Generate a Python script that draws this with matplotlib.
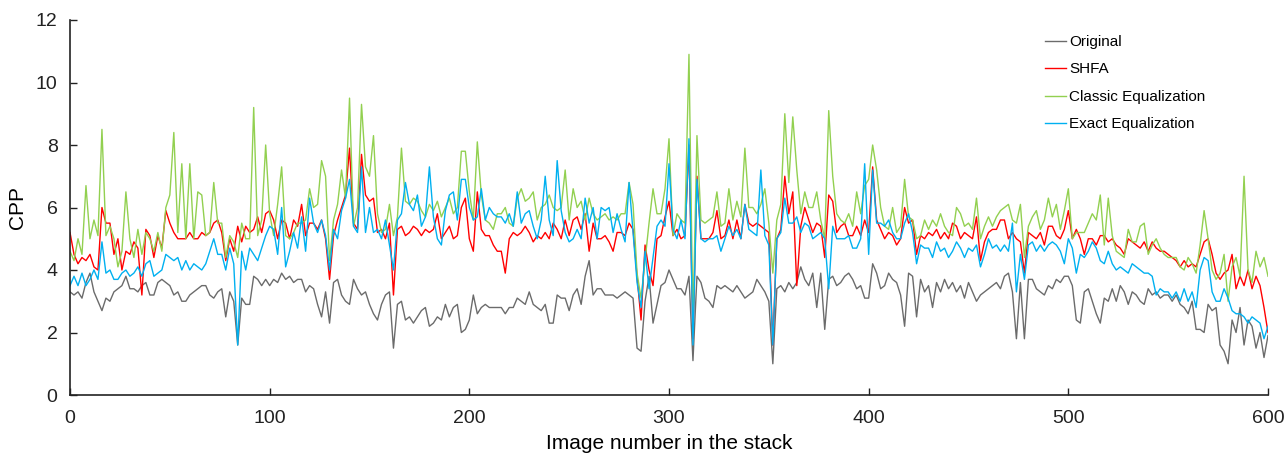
import numpy as np
import matplotlib
matplotlib.use('Agg')
import matplotlib.pyplot as plt

plt.rcParams['font.family'] = ['Liberation Sans', 'DejaVu Sans']

# image numbers (every second image of the stack)
image_numbers = list(range(0, 601, 2))

original = [
    3.3, 3.2, 3.3, 3.1, 3.6, 3.9, 3.3, 3.0, 2.7, 3.1, 3.0, 3.3, 3.4, 3.5, 3.8, 3.4, 3.4, 3.3, 3.5, 3.6, 3.2, 3.2, 3.6, 3.7, 3.6,
    3.5, 3.2, 3.3, 3.0, 3.0, 3.2, 3.3, 3.4, 3.5, 3.5, 3.2, 3.1, 3.3, 3.4, 2.5, 3.3, 3.0, 1.6, 3.1, 2.9, 2.9, 3.8, 3.7, 3.5, 3.7,
    3.5, 3.7, 3.6, 3.9, 3.7, 3.8, 3.6, 3.7, 3.7, 3.3, 3.5, 3.4, 2.9, 2.5, 3.3, 2.3, 3.6, 3.7, 3.2, 3.0, 2.9, 3.7, 3.4, 3.2, 3.3,
    2.9, 2.6, 2.4, 2.9, 3.2, 3.3, 1.5, 2.9, 3.0, 2.4, 2.5, 2.3, 2.5, 2.7, 2.8, 2.2, 2.3, 2.5, 2.4, 2.9, 2.5, 2.8, 2.9, 2.0, 2.1,
    2.4, 3.2, 2.6, 2.8, 2.9, 2.8, 2.8, 2.8, 2.8, 2.6, 2.8, 2.8, 3.1, 3.0, 2.9, 3.3, 2.9, 2.8, 2.7, 2.9, 2.3, 2.3, 3.2, 3.1, 3.1,
    2.7, 3.2, 3.4, 2.9, 3.8, 4.3, 3.2, 3.4, 3.4, 3.2, 3.2, 3.2, 3.1, 3.2, 3.3, 3.2, 3.1, 1.5, 1.4, 3.0, 3.8, 2.3, 2.9, 3.5, 3.6,
    4.0, 3.7, 3.4, 3.4, 3.2, 3.8, 1.1, 3.8, 3.6, 3.1, 3.0, 2.8, 3.5, 3.4, 3.5, 3.4, 3.3, 3.5, 3.3, 3.1, 3.2, 3.3, 3.7, 3.5, 3.3,
    3.0, 1.0, 3.4, 3.5, 3.3, 3.6, 3.4, 3.6, 4.1, 3.7, 3.5, 3.9, 2.8, 3.9, 2.1, 3.7, 3.8, 3.5, 3.6, 3.8, 3.9, 3.7, 3.4, 3.5, 3.1,
    3.1, 4.2, 3.9, 3.4, 3.5, 3.9, 3.7, 3.6, 3.2, 2.2, 3.9, 3.8, 2.5, 3.7, 3.3, 3.5, 2.8, 3.6, 3.3, 3.7, 3.4, 3.6, 3.3, 3.5, 3.1,
    3.6, 3.3, 3.0, 3.2, 3.3, 3.4, 3.5, 3.6, 3.4, 3.8, 3.9, 3.3, 1.8, 3.6, 1.8, 3.7, 3.7, 3.4, 3.3, 3.2, 3.5, 3.4, 3.7, 3.6, 3.8,
    3.8, 3.5, 2.4, 2.3, 3.3, 3.4, 3.0, 2.6, 2.3, 3.1, 3.0, 3.4, 3.0, 3.5, 3.3, 2.9, 3.3, 3.2, 3.0, 2.9, 3.4, 3.2, 3.3, 3.1, 3.2,
    3.2, 3.0, 3.2, 2.9, 2.8, 2.6, 3.0, 2.1, 2.1, 2.0, 2.9, 2.7, 2.8, 1.6, 1.4, 1.0, 2.4, 2.0, 2.8, 1.6, 2.4, 2.2, 1.5, 2.0, 1.2, 1.9,
]

shfa = [
    5.2, 4.5, 4.2, 4.4, 4.3, 4.5, 4.1, 4.0, 6.0, 5.5, 5.5, 4.5, 5.0, 4.0, 4.6, 4.5, 4.9, 4.7, 3.2, 5.3, 5.1, 4.4, 5.1, 4.7, 5.9,
    5.5, 5.2, 5.0, 5.0, 5.0, 5.2, 5.0, 5.0, 5.2, 5.1, 5.2, 5.5, 5.6, 5.2, 4.3, 5.0, 4.6, 5.4, 4.9, 5.4, 5.2, 5.3, 5.7, 5.2, 5.8,
    5.9, 5.6, 5.0, 5.6, 5.5, 5.0, 5.6, 5.4, 6.1, 5.1, 5.5, 5.5, 5.3, 5.6, 5.0, 3.7, 5.1, 5.6, 6.0, 6.4, 7.9, 5.5, 5.3, 7.7, 6.4,
    6.2, 6.3, 5.2, 5.3, 5.0, 5.5, 3.2, 5.3, 5.4, 5.1, 5.2, 5.4, 5.3, 5.1, 5.3, 5.2, 5.3, 5.8, 5.0, 5.2, 5.4, 5.0, 5.1, 6.0, 6.3,
    5.0, 4.6, 6.5, 5.3, 5.1, 5.1, 4.8, 4.6, 4.6, 3.9, 5.0, 5.2, 5.1, 5.2, 5.4, 5.2, 4.9, 5.1, 5.0, 5.2, 5.0, 5.5, 5.3, 5.0, 5.6,
    5.1, 5.6, 5.7, 5.3, 5.8, 4.6, 5.5, 5.0, 5.0, 5.1, 4.9, 4.6, 5.2, 5.2, 5.1, 5.5, 5.3, 3.8, 2.4, 4.8, 4.0, 3.5, 5.0, 5.1, 5.7,
    6.2, 5.1, 5.3, 5.0, 5.1, 8.0, 1.8, 7.0, 5.0, 5.0, 5.0, 5.2, 5.9, 5.0, 5.1, 5.6, 5.0, 5.6, 5.0, 6.1, 5.5, 5.4, 5.5, 5.4, 5.3,
    5.2, 1.6, 5.0, 5.3, 7.0, 5.8, 6.5, 3.5, 5.4, 6.0, 5.6, 5.2, 5.5, 5.4, 4.4, 6.4, 6.2, 5.2, 5.4, 5.5, 5.1, 5.1, 5.4, 5.1, 5.6,
    5.2, 7.3, 5.6, 5.3, 5.0, 5.2, 5.1, 4.8, 5.0, 6.0, 5.5, 5.6, 4.5, 5.1, 5.0, 5.2, 5.1, 5.3, 5.0, 5.2, 5.0, 5.5, 5.4, 5.0, 5.2,
    5.1, 5.0, 5.7, 4.3, 4.9, 5.2, 5.3, 5.3, 5.6, 5.6, 5.0, 5.2, 5.0, 4.9, 3.9, 5.2, 5.1, 5.0, 5.2, 4.8, 5.4, 5.4, 5.1, 5.0, 5.3,
    5.9, 5.0, 5.3, 5.0, 4.5, 5.0, 5.0, 4.8, 5.1, 5.1, 4.9, 5.0, 4.8, 4.7, 4.5, 5.0, 4.9, 4.8, 4.7, 4.9, 4.6, 4.9, 4.7, 4.6, 4.6,
    4.5, 4.4, 4.3, 4.1, 4.3, 4.1, 4.2, 4.1, 4.5, 4.9, 5.0, 4.5, 3.9, 3.7, 3.9, 4.0, 4.5, 3.4, 3.8, 3.5, 4.0, 3.4, 3.8, 3.5, 2.8, 2.0,
]

classic_eq = [
    4.6, 4.3, 5.0, 4.5, 6.7, 5.0, 5.6, 5.1, 8.5, 5.1, 5.4, 5.0, 4.1, 4.6, 6.5, 5.0, 4.4, 5.3, 4.5, 5.2, 5.0, 4.6, 5.2, 4.6, 6.0,
    6.4, 8.4, 5.2, 7.4, 5.0, 7.4, 5.0, 6.5, 6.4, 5.1, 5.2, 6.8, 5.5, 5.5, 4.4, 5.1, 4.9, 4.4, 5.5, 5.0, 5.0, 9.2, 5.1, 5.6, 8.0,
    5.8, 5.1, 6.1, 7.3, 5.1, 5.0, 5.2, 5.5, 5.5, 5.6, 6.6, 6.0, 6.1, 7.5, 7.0, 4.3, 5.6, 6.1, 7.2, 6.3, 9.5, 5.4, 6.0, 9.3, 7.3,
    7.0, 8.3, 5.8, 5.2, 5.3, 6.1, 5.1, 5.7, 7.9, 6.2, 6.1, 6.3, 6.2, 5.9, 5.7, 6.1, 5.9, 6.2, 5.7, 6.0, 6.3, 5.8, 6.0, 7.8, 7.8,
    6.5, 5.6, 8.1, 6.4, 5.6, 5.5, 5.3, 5.8, 5.8, 6.0, 5.5, 5.4, 6.3, 6.6, 6.2, 6.3, 6.5, 5.6, 6.0, 6.1, 6.4, 6.0, 5.9, 6.0, 7.2,
    5.6, 6.6, 6.0, 6.2, 5.6, 6.3, 5.8, 5.6, 5.7, 5.8, 5.6, 5.7, 5.6, 5.8, 5.8, 6.8, 6.1, 3.9, 3.1, 4.3, 5.5, 6.6, 5.8, 5.8, 6.6,
    8.2, 5.1, 5.8, 5.6, 5.5, 10.9, 2.3, 8.3, 5.6, 5.5, 5.6, 5.7, 6.5, 5.4, 5.5, 6.6, 5.6, 6.2, 5.7, 7.9, 6.0, 6.0, 5.8, 6.1, 6.6,
    5.5, 3.9, 5.6, 6.1, 9.0, 6.8, 8.9, 7.2, 5.8, 6.5, 6.0, 6.0, 6.5, 5.6, 5.0, 9.1, 7.0, 5.8, 5.6, 5.5, 5.8, 5.4, 6.5, 5.8, 6.7,
    6.9, 8.0, 7.2, 6.0, 5.4, 5.3, 6.0, 5.2, 5.4, 6.9, 5.7, 5.6, 5.0, 5.1, 5.6, 5.3, 5.6, 5.4, 5.8, 5.4, 5.2, 5.1, 6.0, 5.8, 5.4,
    5.5, 5.3, 6.3, 5.0, 5.4, 5.7, 5.4, 5.7, 5.9, 6.0, 6.1, 5.6, 5.5, 6.1, 4.4, 5.4, 5.7, 5.9, 5.3, 5.6, 6.3, 5.7, 6.1, 5.3, 5.9,
    6.6, 5.0, 5.2, 5.2, 5.2, 5.5, 5.8, 5.6, 6.4, 4.8, 6.3, 5.1, 4.6, 4.5, 4.4, 5.3, 4.9, 4.9, 5.4, 5.5, 4.5, 4.8, 5.0, 4.7, 4.5,
    4.4, 4.4, 4.4, 4.1, 4.0, 4.4, 4.2, 3.9, 4.8, 5.9, 5.0, 4.0, 3.7, 3.9, 4.5, 3.0, 4.1, 4.4, 3.8, 7.0, 4.0, 3.6, 4.6, 4.1, 4.4, 3.8,
]

exact_eq = [
    3.5, 3.8, 3.5, 3.9, 3.5, 3.7, 4.0, 3.7, 4.9, 3.9, 4.0, 3.7, 3.7, 3.9, 4.0, 3.8, 3.9, 4.1, 3.8, 4.2, 4.3, 3.8, 3.9, 4.0, 4.5,
    4.4, 4.3, 4.4, 4.0, 4.3, 4.0, 4.2, 4.1, 4.0, 4.2, 4.6, 5.0, 4.5, 4.5, 4.0, 4.7, 4.2, 1.6, 4.6, 4.0, 4.7, 4.5, 4.3, 4.7, 5.1,
    5.4, 5.3, 4.5, 6.0, 4.1, 4.6, 5.2, 4.7, 5.7, 4.6, 6.3, 5.5, 5.2, 5.6, 5.1, 4.0, 5.3, 5.0, 5.9, 6.3, 6.9, 5.4, 5.2, 7.3, 5.2,
    6.0, 5.2, 5.3, 5.0, 5.6, 4.8, 4.0, 5.6, 5.8, 6.8, 6.1, 5.9, 6.4, 5.4, 5.7, 7.3, 5.7, 5.0, 4.8, 5.9, 6.4, 6.5, 5.6, 6.9, 6.9,
    6.0, 5.6, 5.7, 6.6, 5.6, 6.0, 5.8, 5.7, 5.7, 5.5, 5.8, 5.4, 6.5, 5.5, 5.8, 5.9, 5.4, 5.0, 5.6, 7.0, 5.6, 5.1, 7.5, 5.9, 5.2,
    4.9, 5.0, 5.3, 5.0, 6.3, 5.5, 6.0, 5.0, 6.0, 5.9, 6.0, 5.2, 5.8, 5.3, 4.9, 6.8, 5.2, 3.6, 2.8, 4.6, 3.4, 4.4, 5.4, 5.6, 5.4,
    7.4, 5.3, 5.0, 5.6, 5.0, 8.2, 1.6, 6.9, 5.0, 4.9, 5.0, 5.0, 5.1, 4.6, 5.0, 5.4, 5.1, 5.3, 5.0, 6.1, 5.3, 5.2, 5.1, 7.2, 5.1,
    4.8, 1.6, 5.0, 5.2, 6.3, 5.5, 5.5, 5.7, 5.2, 5.5, 5.4, 5.0, 5.1, 5.2, 5.0, 3.4, 5.4, 5.0, 5.0, 5.0, 5.1, 4.7, 4.7, 5.0, 7.4,
    4.5, 7.2, 5.5, 5.5, 5.4, 5.6, 5.2, 5.0, 5.0, 5.5, 5.8, 5.2, 4.2, 4.8, 4.7, 4.7, 4.4, 4.9, 4.6, 4.7, 4.4, 4.6, 4.9, 4.7, 4.4,
    4.7, 4.6, 4.8, 4.1, 4.5, 5.0, 4.7, 4.8, 4.6, 4.8, 4.6, 5.5, 3.3, 4.5, 3.7, 4.8, 4.9, 4.6, 4.8, 4.6, 4.8, 4.9, 4.8, 4.6, 4.2,
    5.0, 4.7, 3.9, 4.5, 4.4, 4.6, 4.9, 4.7, 4.3, 4.2, 4.6, 4.2, 4.0, 4.1, 4.0, 3.9, 4.2, 4.1, 4.0, 3.9, 3.9, 3.8, 3.2, 3.4, 3.3,
    3.3, 3.1, 3.3, 3.0, 3.4, 3.0, 3.3, 2.8, 4.0, 4.4, 4.3, 3.3, 3.0, 3.0, 3.4, 3.1, 2.7, 2.6, 2.6, 2.5, 2.3, 2.5, 2.4, 2.3, 1.8, 2.2,
]

series = [
    ('Original', original, '#6b6b6b'),
    ('SHFA', shfa, '#ff0000'),
    ('Classic Equalization', classic_eq, '#92d050'),
    ('Exact Equalization', exact_eq, '#00b0f0'),
]

fig = plt.figure(figsize=(12.87, 4.53), dpi=100)
ax = fig.add_axes([70 / 1287, 1 - 395 / 453, 1198 / 1287, 375 / 453])

for name, vals, col in series:
    ax.plot(image_numbers, vals, color=col, linewidth=1.0, label=name)

ax.set_xlim(0, 600)
ax.set_ylim(0, 12)
ax.set_xticks(range(0, 601, 100))
ax.set_yticks(range(0, 13, 2))
ax.spines['top'].set_visible(False)
ax.spines['right'].set_visible(False)
for s in ['left', 'bottom']:
    ax.spines[s].set_linewidth(1.2)
    ax.spines[s].set_color('#222222')
ax.tick_params(direction='in', length=5, width=1.0, labelsize=14, colors='#222222')
ax.tick_params(axis='x', pad=11)
ax.tick_params(axis='y', pad=9)
ax.set_xlabel('Image number in the stack', fontsize=15, labelpad=5)
ax.set_ylabel('CPP', fontsize=15, labelpad=6)

ax.legend(loc='upper left', bbox_to_anchor=(1045 / 1287, 1 - 35 / 453),
          bbox_transform=fig.transFigure, frameon=False, fontsize=11,
          handlelength=1.4, handletextpad=0.2, labelspacing=0.88,
          borderpad=0, borderaxespad=0)

fig.savefig('out.png', dpi=100)
